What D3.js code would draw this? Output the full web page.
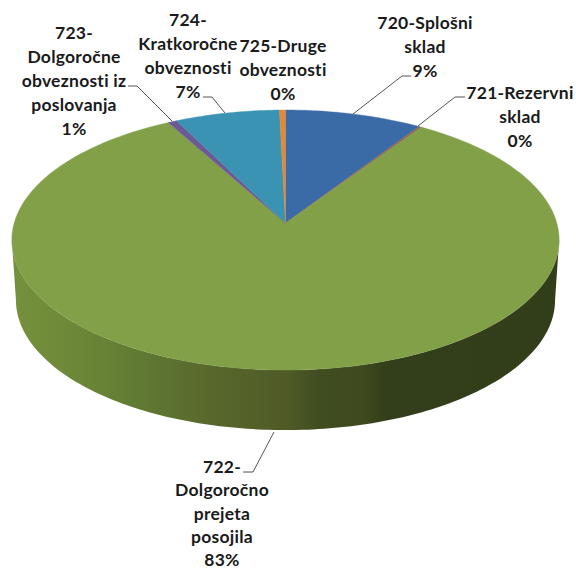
<!DOCTYPE html>
<html><head><meta charset="utf-8">
<script src="https://cdnjs.cloudflare.com/ajax/libs/d3/7.8.5/d3.min.js"></script>
<style>html,body{margin:0;padding:0;background:#fff}svg{display:block}</style>
</head><body><svg id="c" width="576" height="571"></svg>
<script>
const categories = ["720-Splošni sklad","721-Rezervni sklad","722-Dolgoročno prejeta posojila","723-Dolgoročne obveznosti iz poslovanja","724-Kratkoročne obveznosti","725-Druge obveznosti"];
const values = [9.2,0.2,82.6,0.6,7.0,0.4];
const colors = ["#3b6ba6","#8f6a52","#81a048","#6b5a94","#3a93b2","#e0893a"];
const labelLines = [
  ["720-Splošni","sklad"],
  ["721-Rezervni","sklad"],
  ["722-","Dolgoročno","prejeta","posojila"],
  ["723-","Dolgoročne","obveznosti iz","poslovanja"],
  ["724-","Kratkoročne","obveznosti"],
  ["725-Druge","obveznosti"]
];
// layout only
const labelPos = [[425,29],[520,99],[222,473],[74,39],[188,26],[283,52]];
const labelSteps = [24,24,23.3,24,24,24];
const leaders = [
  [[411,76],[402,76],[353,114]],
  [[465,97],[455,97],[418,126]],
  [[243,472],[253,472],[274,432]],
  [[128,86],[137,86],[172,121]],
  [[203,97],[212,97],[225,113]],
  []
];
const rimStops = [0,.12,.2,.275,.33,.39,.505,.56,.64,.68,1];
const rimColors = ["#76913c","#6d8738","#647e34","#5d7431","#5b6c2e","#56662b","#4f5a27","#3f4d20","#404a1f","#333f1a","#323e19"];
const cx=285.5, cy=223, p=0.131, ry=127.8, rx=271.3, depth=60, shrink=0.985;
const svg=d3.select("#c");
const proj=(a,s=1,dy=0)=>{const u=Math.sin(a),v=Math.cos(a),w=1+p*v;return [cx+s*rx*u/w,cy-ry*v/w+dy];};
const arcs=d3.pie().sort(null).value(d=>d)(values);
const line=d3.line();
const samples=(a0,a1,n=160)=>d3.range(n+1).map(i=>a0+(a1-a0)*i/n);

// rim
const defs=svg.append("defs");
const grad=defs.append("linearGradient").attr("id","rim").attr("gradientUnits","userSpaceOnUse")
  .attr("x1",12).attr("x2",559).attr("y1",0).attr("y2",0);
rimStops.forEach((o,i)=>{
  grad.append("stop").attr("offset",o).attr("stop-color",rimColors[i]);
});
const tilt=Math.asin(p);
const aR=Math.PI/2+tilt, aL=Math.PI*1.5-tilt;
const rimTop=samples(aR,aL).map(a=>proj(a));
const rimBottom=samples(aL,aR).map(a=>proj(a,shrink,depth));
svg.append("path").attr("d",line(rimTop.concat(rimBottom))+"Z").attr("fill","url(#rim)");

// top surface
arcs.forEach((d,i)=>{
  const pts=[[cx,cy]].concat(samples(d.startAngle,d.endAngle,Math.max(4,Math.ceil((d.endAngle-d.startAngle)*60))).map(a=>proj(a)));
  svg.append("path").attr("d",line(pts)+"Z").attr("fill",colors[i]).attr("stroke",colors[i]).attr("stroke-width",.4);
});

// leaders
leaders.forEach(l=>{ if(l.length) svg.append("path").attr("d",line(l)).attr("fill","none").attr("stroke","#555").attr("stroke-width",1);});

// labels
const fmt=d3.format(".0f");
labelLines.forEach((lines,i)=>{
  const t=svg.append("text").attr("text-anchor","middle").attr("font-family","Lato, 'Open Sans', sans-serif")
    .attr("font-weight",700).attr("font-size",17.5).attr("letter-spacing",.25).attr("fill","#1a1a1a");
  lines.concat(fmt(values[i])+"%").forEach((s,j)=>{
    t.append("tspan").attr("x",labelPos[i][0]).attr("y",labelPos[i][1]+j*labelSteps[i]).text(s);
  });
});
</script></body></html>
